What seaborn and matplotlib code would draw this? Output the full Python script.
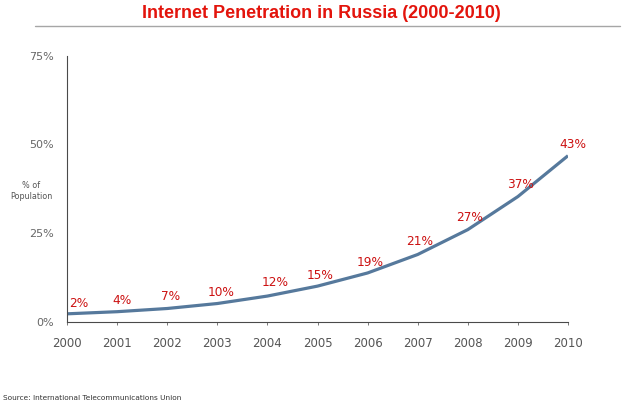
import matplotlib
matplotlib.use("Agg")
import matplotlib.pyplot as plt
from matplotlib import font_manager
from matplotlib.lines import Line2D
import seaborn as sns
import pandas as pd

# ---- data ----
years = [2000, 2001, 2002, 2003, 2004, 2005, 2006, 2007, 2008, 2009, 2010]
penetration_labels = [2, 4, 7, 10, 12, 15, 19, 21, 27, 37, 43]        # data labels (%)
trend_curve = [2.3, 2.9, 3.8, 5.2, 7.3, 10.1, 13.8, 19.0, 26.0, 35.3, 46.8]  # drawn curve (%)
y_ticks = [0, 25, 50, 75]
title_text = "Internet Penetration in Russia (2000-2010)"
source_text = "Source: International Telecommunications Union"

# label placement offsets (pixels) relative to the curve point
label_dx = [12, 5, 3, 4, 8, 3, 3, 2, 2, 3, 5]
label_dy = [10.6, 11, 11.6, 11.5, 13.5, 11, 10, 13, 12, 12, 11]

sns.set_theme(style="white")
plt.rcParams['font.family'] = ['DejaVu Sans']

W, H, DPI = 640, 408, 100
fig = plt.figure(figsize=(W / DPI, H / DPI), dpi=DPI)
fig.patch.set_facecolor("white")
ax = fig.add_axes([67 / W, 1 - 322 / H, (568 - 67) / W, (322 - 55.5) / H])
ax.set_facecolor("white")

df = pd.DataFrame({"year": years, "trend": trend_curve})
sns.lineplot(data=df, x="year", y="trend", ax=ax, color="#56799c",
             linewidth=2.3, solid_capstyle="butt", solid_joinstyle="round")

ax.set_xlim(years[0], years[-1])
ax.set_ylim(y_ticks[0], y_ticks[-1])
ax.set_xticks(years)
ax.set_xticklabels([str(y) for y in years])
ax.set_yticks(y_ticks)
ax.set_yticklabels([f"{v}%" for v in y_ticks])
ax.set_xlabel("")
ax.set_ylabel("")

for s in ["top", "right"]:
    ax.spines[s].set_visible(False)
for s in ["left", "bottom"]:
    ax.spines[s].set_color("#4a4a4a")
    ax.spines[s].set_linewidth(0.8)

ax.tick_params(axis="x", bottom=True, length=2.2, width=0.7, color="#777777",
               labelsize=8.5, labelcolor="#555555", pad=8.5)
ax.tick_params(axis="y", left=False, length=0, labelsize=8,
               labelcolor="#666666", pad=9.4)
ax.grid(False)

px2pt = 72 / DPI
for yr, val, lab, dx, dy in zip(years, trend_curve, penetration_labels, label_dx, label_dy):
    ax.annotate(f"{lab}%", xy=(yr, val), xytext=(dx * px2pt, dy * px2pt),
                textcoords="offset points", ha="center", va="center",
                fontsize=8.7, color="#cc1111", annotation_clip=False)

# y-axis caption
fig.text(31 / W, 1 - 191 / H, "% of\nPopulation", ha="center", va="center",
         fontsize=5.8, color="#555555", linespacing=1.15)

# title, fitted to reference width
names = {f.name for f in font_manager.fontManager.ttflist}
tfont = "Liberation Sans Narrow" if "Liberation Sans Narrow" in names else "Liberation Sans"
title = fig.text(321.5 / W, 1 - 14 / H, title_text, ha="center", va="center",
                 fontsize=12, fontweight="bold", color="#e3140c", family=[tfont, "DejaVu Sans"])
fig.canvas.draw()
r = fig.canvas.get_renderer()
w = title.get_window_extent(r).width
title.set_fontsize(12 * 357 / w)

# rule under title
fig.add_artist(Line2D([35 / W, 620 / W], [1 - 26 / H, 1 - 26 / H], transform=fig.transFigure,
                      color="#a6a6a6", linewidth=1.0))

src = fig.text(3 / W, 1 - 398 / H, source_text, ha="left", va="center",
               fontsize=5.5, color="#333333")
fig.canvas.draw()
w = src.get_window_extent(fig.canvas.get_renderer()).width
src.set_fontsize(5.5 * 180 / w)

fig.savefig("out.png", dpi=DPI, facecolor="white")
